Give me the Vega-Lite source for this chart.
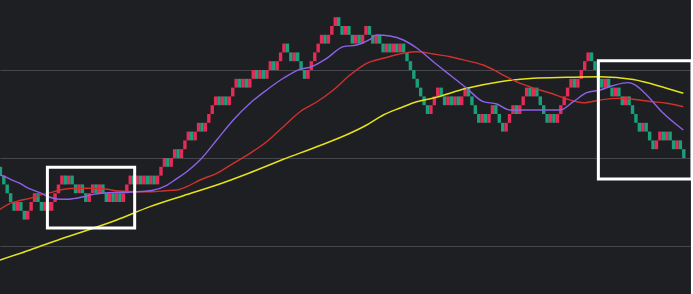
{
  "$schema": "https://vega.github.io/schema/vega-lite/v6.json",
  "width": 691,
  "height": 294,
  "padding": 0,
  "autosize": {"type": "none"},
  "background": "#1e1f23",
  "config": {"view": {"stroke": null}},
  "datasets": {
    "bricks": [
      {"k":0,"o":19,"c":18},{"k":1,"o":18,"c":17},{"k":2,"o":17,"c":16},{"k":3,"o":16,"c":15},{"k":4,"o":15,"c":14},
      {"k":5,"o":14,"c":15},{"k":6,"o":15,"c":14},{"k":7,"o":14,"c":13},{"k":8,"o":13,"c":14},{"k":9,"o":14,"c":15},
      {"k":10,"o":15,"c":16},{"k":11,"o":16,"c":15},{"k":12,"o":15,"c":14},{"k":13,"o":14,"c":15},{"k":14,"o":15,"c":14},
      {"k":15,"o":14,"c":15},{"k":16,"o":15,"c":16},{"k":17,"o":16,"c":17},{"k":18,"o":17,"c":18},{"k":19,"o":18,"c":17},
      {"k":20,"o":17,"c":18},{"k":21,"o":18,"c":17},{"k":22,"o":17,"c":16},{"k":23,"o":16,"c":17},{"k":24,"o":17,"c":16},
      {"k":25,"o":16,"c":15},{"k":26,"o":15,"c":16},{"k":27,"o":16,"c":17},{"k":28,"o":17,"c":16},{"k":29,"o":16,"c":17},
      {"k":30,"o":17,"c":16},{"k":31,"o":16,"c":15},{"k":32,"o":15,"c":16},{"k":33,"o":16,"c":15},{"k":34,"o":15,"c":16},
      {"k":35,"o":16,"c":15},{"k":36,"o":15,"c":16},{"k":37,"o":16,"c":17},{"k":38,"o":17,"c":18},{"k":39,"o":18,"c":17},
      {"k":40,"o":17,"c":18},{"k":41,"o":18,"c":17},{"k":42,"o":17,"c":18},{"k":43,"o":18,"c":17},{"k":44,"o":17,"c":18},
      {"k":45,"o":18,"c":17},{"k":46,"o":17,"c":18},{"k":47,"o":18,"c":19},{"k":48,"o":19,"c":20},{"k":49,"o":20,"c":19},
      {"k":50,"o":19,"c":20},{"k":51,"o":20,"c":21},{"k":52,"o":21,"c":20},{"k":53,"o":20,"c":21},{"k":54,"o":21,"c":22},
      {"k":55,"o":22,"c":23},{"k":56,"o":23,"c":22},{"k":57,"o":22,"c":23},{"k":58,"o":23,"c":24},{"k":59,"o":24,"c":23},
      {"k":60,"o":23,"c":24},{"k":61,"o":24,"c":25},{"k":62,"o":25,"c":26},{"k":63,"o":26,"c":27},{"k":64,"o":27,"c":26},
      {"k":65,"o":26,"c":27},{"k":66,"o":27,"c":26},{"k":67,"o":26,"c":27},{"k":68,"o":27,"c":28},{"k":69,"o":28,"c":29},
      {"k":70,"o":29,"c":28},{"k":71,"o":28,"c":29},{"k":72,"o":29,"c":28},{"k":73,"o":28,"c":29},{"k":74,"o":29,"c":30},
      {"k":75,"o":30,"c":29},{"k":76,"o":29,"c":30},{"k":77,"o":30,"c":29},{"k":78,"o":29,"c":30},{"k":79,"o":30,"c":31},
      {"k":80,"o":31,"c":30},{"k":81,"o":30,"c":31},{"k":82,"o":31,"c":32},{"k":83,"o":32,"c":33},{"k":84,"o":33,"c":32},
      {"k":85,"o":32,"c":31},{"k":86,"o":31,"c":32},{"k":87,"o":32,"c":31},{"k":88,"o":31,"c":30},{"k":89,"o":30,"c":29},
      {"k":90,"o":29,"c":30},{"k":91,"o":30,"c":31},{"k":92,"o":31,"c":32},{"k":93,"o":32,"c":33},{"k":94,"o":33,"c":34},
      {"k":95,"o":34,"c":33},{"k":96,"o":33,"c":34},{"k":97,"o":34,"c":35},{"k":98,"o":35,"c":36},{"k":99,"o":36,"c":35},
      {"k":100,"o":35,"c":34},{"k":101,"o":34,"c":35},{"k":102,"o":35,"c":34},{"k":103,"o":34,"c":33},{"k":104,"o":33,"c":34},
      {"k":105,"o":34,"c":33},{"k":106,"o":33,"c":34},{"k":107,"o":34,"c":35},{"k":108,"o":35,"c":34},{"k":109,"o":34,"c":33},
      {"k":110,"o":33,"c":34},{"k":111,"o":34,"c":33},{"k":112,"o":33,"c":32},{"k":113,"o":32,"c":33},{"k":114,"o":33,"c":32},
      {"k":115,"o":32,"c":33},{"k":116,"o":33,"c":32},{"k":117,"o":32,"c":33},{"k":118,"o":33,"c":32},{"k":119,"o":32,"c":31},
      {"k":120,"o":31,"c":30},{"k":121,"o":30,"c":29},{"k":122,"o":29,"c":28},{"k":123,"o":28,"c":27},{"k":124,"o":27,"c":26},
      {"k":125,"o":26,"c":25},{"k":126,"o":25,"c":26},{"k":127,"o":26,"c":27},{"k":128,"o":27,"c":28},{"k":129,"o":28,"c":27},
      {"k":130,"o":27,"c":26},{"k":131,"o":26,"c":27},{"k":132,"o":27,"c":26},{"k":133,"o":26,"c":27},{"k":134,"o":27,"c":26},
      {"k":135,"o":26,"c":27},{"k":136,"o":27,"c":28},{"k":137,"o":28,"c":27},{"k":138,"o":27,"c":26},{"k":139,"o":26,"c":25},
      {"k":140,"o":25,"c":24},{"k":141,"o":24,"c":25},{"k":142,"o":25,"c":24},{"k":143,"o":24,"c":25},{"k":144,"o":25,"c":26},
      {"k":145,"o":26,"c":25},{"k":146,"o":25,"c":24},{"k":147,"o":24,"c":23},{"k":148,"o":23,"c":24},{"k":149,"o":24,"c":25},
      {"k":150,"o":25,"c":26},{"k":151,"o":26,"c":25},{"k":152,"o":25,"c":26},{"k":153,"o":26,"c":27},{"k":154,"o":27,"c":28},
      {"k":155,"o":28,"c":27},{"k":156,"o":27,"c":28},{"k":157,"o":28,"c":27},{"k":158,"o":27,"c":26},{"k":159,"o":26,"c":25},
      {"k":160,"o":25,"c":24},{"k":161,"o":24,"c":25},{"k":162,"o":25,"c":24},{"k":163,"o":24,"c":25},{"k":164,"o":25,"c":26},
      {"k":165,"o":26,"c":27},{"k":166,"o":27,"c":28},{"k":167,"o":28,"c":29},{"k":168,"o":29,"c":28},{"k":169,"o":28,"c":29},
      {"k":170,"o":29,"c":30},{"k":171,"o":30,"c":31},{"k":172,"o":31,"c":32},{"k":173,"o":32,"c":31},{"k":174,"o":31,"c":30},
      {"k":175,"o":30,"c":29},{"k":176,"o":29,"c":28},{"k":177,"o":28,"c":29},{"k":178,"o":29,"c":28},{"k":179,"o":28,"c":27},
      {"k":180,"o":27,"c":28},{"k":181,"o":28,"c":27},{"k":182,"o":27,"c":26},{"k":183,"o":26,"c":27},{"k":184,"o":27,"c":26},
      {"k":185,"o":26,"c":25},{"k":186,"o":25,"c":24},{"k":187,"o":24,"c":23},{"k":188,"o":23,"c":24},{"k":189,"o":24,"c":23},
      {"k":190,"o":23,"c":22},{"k":191,"o":22,"c":21},{"k":192,"o":21,"c":22},{"k":193,"o":22,"c":23},{"k":194,"o":23,"c":22},
      {"k":195,"o":22,"c":23},{"k":196,"o":23,"c":22},{"k":197,"o":22,"c":21},{"k":198,"o":21,"c":22},{"k":199,"o":22,"c":21},
      {"k":200,"o":21,"c":20}
    ],
    "slow": [
      {"k":-0.1,"v":8.41},{"k":8.67,"v":9.55},{"k":17.45,"v":10.76},{"k":34.04,"v":12.95},{"k":43.79,"v":14.47},
      {"k":53.53,"v":15.72},{"k":63.31,"v":16.93},{"k":73.05,"v":18.33},{"k":82.8,"v":19.85},{"k":92.57,"v":21.28},
      {"k":102.32,"v":22.81},{"k":107.2,"v":23.75},{"k":112.06,"v":24.89},{"k":116.95,"v":25.68},{"k":121.84,"v":26.4},
      {"k":126.7,"v":26.82},{"k":136.47,"v":27.92},{"k":146.22,"v":28.67},{"k":155.96,"v":29.06},{"k":165.73,"v":29.17},
      {"k":175.48,"v":29.24},{"k":185.23,"v":28.92},{"k":193.54,"v":28.1},{"k":199.87,"v":27.35}
    ],
    "mid": [
      {"k":-0.11,"v":14.17},{"k":2.82,"v":14.85},{"k":5.74,"v":15.17},{"k":8.67,"v":15.42},{"k":11.6,"v":15.8},
      {"k":14.52,"v":16.06},{"k":17.45,"v":16.36},{"k":20.37,"v":16.53},{"k":23.3,"v":16.56},{"k":26.23,"v":16.56},
      {"k":30.62,"v":16.48},{"k":34.51,"v":16.25},{"k":39.4,"v":16.17},{"k":44.28,"v":16.17},{"k":48.18,"v":16.28},
      {"k":51.6,"v":16.36},{"k":54.53,"v":16.74},{"k":58.42,"v":17.5},{"k":63.31,"v":18.26},{"k":68.17,"v":19.4},
      {"k":73.05,"v":20.53},{"k":77.94,"v":21.85},{"k":82.8,"v":23.56},{"k":87.69,"v":25.26},{"k":92.57,"v":26.36},
      {"k":97.43,"v":27.73},{"k":102.32,"v":29.43},{"k":107.2,"v":30.76},{"k":112.06,"v":31.33},{"k":117.92,"v":31.9},
      {"k":121.84,"v":32.08},{"k":126.7,"v":31.82},{"k":131.58,"v":31.51},{"k":136.47,"v":31.06},{"k":141.33,"v":30.57},
      {"k":146.22,"v":29.63},{"k":151.1,"v":28.64},{"k":155.96,"v":27.95},{"k":160.85,"v":27.39},{"k":165.73,"v":26.7},
      {"k":170.6,"v":26.28},{"k":175.48,"v":26.59},{"k":180.36,"v":26.78},{"k":185.23,"v":26.67},{"k":190.11,"v":26.42},
      {"k":195.0,"v":26.22},{"k":199.87,"v":25.83}
    ],
    "fast": [
      {"k":-0.11,"v":18.07},{"k":1.85,"v":17.81},{"k":3.78,"v":17.42},{"k":5.74,"v":17.13},{"k":7.7,"v":16.67},
      {"k":9.63,"v":16.36},{"k":11.6,"v":16.06},{"k":13.56,"v":15.68},{"k":15.49,"v":15.42},{"k":17.45,"v":15.31},
      {"k":19.41,"v":15.31},{"k":21.34,"v":15.38},{"k":24.27,"v":15.6},{"k":27.69,"v":15.9},{"k":32.08,"v":16.06},
      {"k":38.81,"v":16.14},{"k":44.28,"v":16.31},{"k":48.67,"v":16.9},{"k":51.4,"v":17.6},{"k":54.53,"v":18.44},
      {"k":58.42,"v":19.77},{"k":63.31,"v":22.05},{"k":68.17,"v":24.32},{"k":73.05,"v":26.22},{"k":77.94,"v":27.73},
      {"k":82.8,"v":29.06},{"k":87.69,"v":30.08},{"k":90.61,"v":30.31},{"k":95.5,"v":31.33},{"k":100.36,"v":32.65},
      {"k":104.28,"v":32.84},{"k":108.17,"v":33.49},{"k":110.13,"v":33.98},{"k":114.03,"v":33.86},{"k":117.92,"v":33.41},
      {"k":121.84,"v":32.5},{"k":126.7,"v":30.94},{"k":131.58,"v":29.43},{"k":136.47,"v":27.92},{"k":141.33,"v":26.4},
      {"k":145.25,"v":26.14},{"k":149.14,"v":25.45},{"k":155.96,"v":25.45},{"k":163.77,"v":25.45},{"k":167.68,"v":26.4},
      {"k":171.59,"v":27.42},{"k":175.48,"v":27.73},{"k":179.37,"v":28.24},{"k":183.76,"v":28.56},{"k":185.72,"v":28.3},
      {"k":188.65,"v":27.35},{"k":193.54,"v":25.26},{"k":199.87,"v":23.18}
    ],
    "boxes": [
      {"x0":13.76,"x1":39.3,"y0":12.05,"y1":18.94},
      {"x0":175.0,"x1":202.4,"y0":17.6,"y1":31.06}
    ]
  },
  "encoding": {
    "x": {"type": "quantitative", "scale": {"domain": [-0.111, 202.11], "nice": false, "zero": false, "padding": 0}, "axis": null},
    "y": {"type": "quantitative", "scale": {"domain": [4.545, 37.955], "nice": false, "zero": false, "padding": 0},
      "axis": {"orient": "right", "values": [10, 20, 30], "grid": true, "gridColor": "#46474c", "gridWidth": 1.2,
        "labels": false, "ticks": false, "title": null, "domain": true, "domainColor": "#46474c", "domainWidth": 1.5}}
  },
  "layer": [
    {
      "data": {"name": "bricks"},
      "mark": {"type": "bar", "width": 3.42},
      "encoding": {
        "x": {"field": "k", "type": "quantitative"},
        "y": {"field": "o", "type": "quantitative"},
        "y2": {"field": "c"},
        "color": {"condition": {"test": "datum.c > datum.o", "value": "#e42c57"}, "value": "#1a9f7a"}
      }
    },
    {
      "data": {"name": "slow"},
      "mark": {"type": "line", "color": "#e3e31c", "strokeWidth": 1.5, "interpolate": "monotone"},
      "encoding": {"x": {"field": "k", "type": "quantitative"}, "y": {"field": "v", "type": "quantitative"}}
    },
    {
      "data": {"name": "mid"},
      "mark": {"type": "line", "color": "#d0312d", "strokeWidth": 1.4, "interpolate": "monotone"},
      "encoding": {"x": {"field": "k", "type": "quantitative"}, "y": {"field": "v", "type": "quantitative"}}
    },
    {
      "data": {"name": "fast"},
      "mark": {"type": "line", "color": "#8c62e6", "strokeWidth": 1.4, "interpolate": "monotone"},
      "encoding": {"x": {"field": "k", "type": "quantitative"}, "y": {"field": "v", "type": "quantitative"}}
    },
    {
      "data": {"name": "boxes"},
      "mark": {"type": "rect", "filled": false, "stroke": "#ffffff", "strokeWidth": 3},
      "encoding": {
        "x": {"field": "x0", "type": "quantitative"},
        "x2": {"field": "x1"},
        "y": {"field": "y0", "type": "quantitative"},
        "y2": {"field": "y1"}
      }
    }
  ]
}
